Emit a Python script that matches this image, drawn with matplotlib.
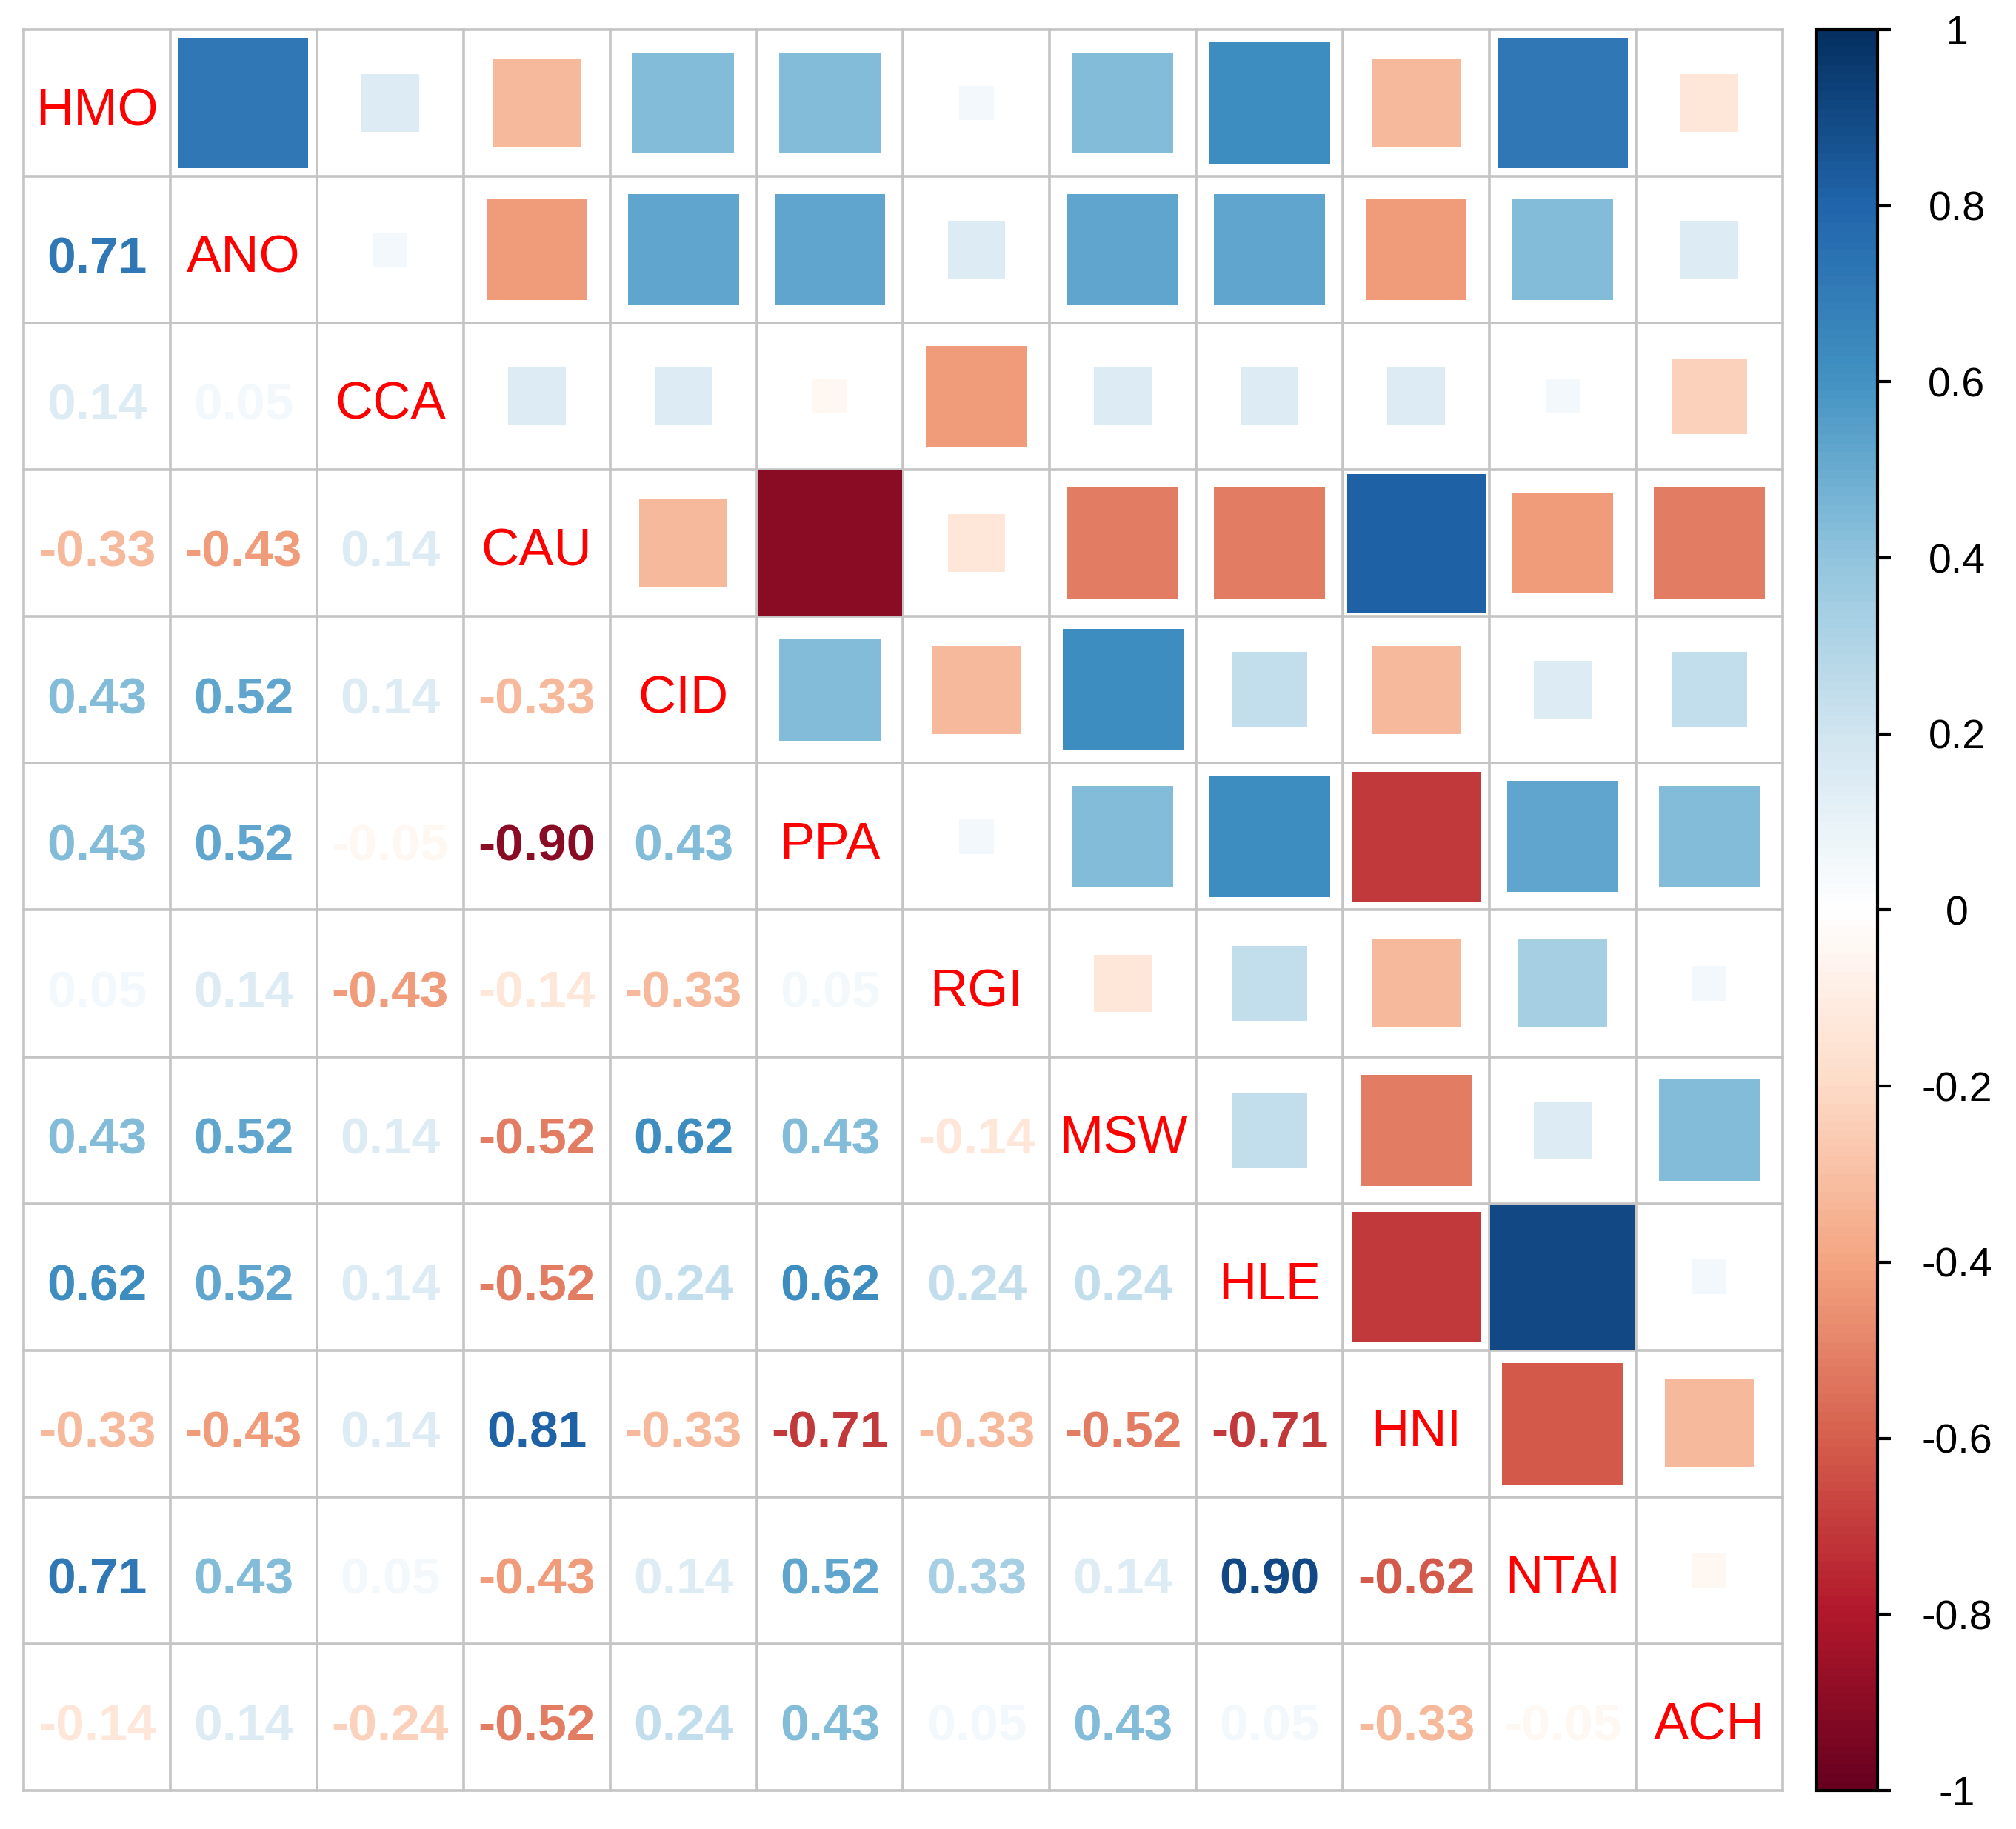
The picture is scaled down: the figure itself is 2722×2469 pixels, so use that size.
import numpy as np
import matplotlib.pyplot as plt
from matplotlib.colors import LinearSegmentedColormap, Normalize
from matplotlib.cm import ScalarMappable
from matplotlib.patches import Rectangle

plt.rcParams['font.family'] = ['Liberation Sans', 'DejaVu Sans']

# variable names (diagonal)
labels = ["HMO", "ANO", "CCA", "CAU", "CID", "PPA", "RGI", "MSW", "HLE", "HNI", "NTAI", "ACH"]

# lower triangle of the correlation matrix, row by row
lower = [
    [],
    [0.71],
    [0.14, 0.05],
    [-0.33, -0.43, 0.14],
    [0.43, 0.52, 0.14, -0.33],
    [0.43, 0.52, -0.05, -0.90, 0.43],
    [0.05, 0.14, -0.43, -0.14, -0.33, 0.05],
    [0.43, 0.52, 0.14, -0.52, 0.62, 0.43, -0.14],
    [0.62, 0.52, 0.14, -0.52, 0.24, 0.62, 0.24, 0.24],
    [-0.33, -0.43, 0.14, 0.81, -0.33, -0.71, -0.33, -0.52, -0.71],
    [0.71, 0.43, 0.05, -0.43, 0.14, 0.52, 0.33, 0.14, 0.90, -0.62],
    [-0.14, 0.14, -0.24, -0.52, 0.24, 0.43, 0.05, 0.43, 0.05, -0.33, -0.05],
]

cbar_ticks = [-1, -0.8, -0.6, -0.4, -0.2, 0, 0.2, 0.4, 0.6, 0.8, 1]
cbar_labels = ["-1", "-0.8", "-0.6", "-0.4", "-0.2", "0", "0.2", "0.4", "0.6", "0.8", "1"]

n = len(labels)
corr = np.eye(n)
for i, row in enumerate(lower):
    for j, v in enumerate(row):
        corr[i, j] = v
        corr[j, i] = v

# corrplot style RdBu palette
cmap = LinearSegmentedColormap.from_list(
    "corrRdBu",
    ["#67001F", "#B2182B", "#D6604D", "#F4A582", "#FDDBC7", "#FFFFFF",
     "#D1E5F0", "#92C5DE", "#4393C3", "#2166AC", "#053061"], N=200)
norm = Normalize(-1, 1)

fig = plt.figure(figsize=(27.22, 24.69), dpi=100)
ax = fig.add_axes([0.01176, 0.0211, 0.8725, 0.9627])
ax.set_xlim(0, n)
ax.set_ylim(n, 0)
ax.set_axis_off()

# grid
for k in range(n + 1):
    ax.plot([k, k], [0, n], color="#C4C4C4", lw=2.6, clip_on=False, zorder=1)
    ax.plot([0, n], [k, k], color="#C4C4C4", lw=2.6, clip_on=False, zorder=1)

for i in range(n):
    for j in range(n):
        v = corr[i, j]
        if i == j:
            ax.text(j + 0.5, i + 0.5 + 0.155, labels[i], color="#FF0000",
                    ha="center", va="baseline", fontsize=51)
        elif i > j:
            ax.text(j + 0.5, i + 0.5 + 0.16, f"{v:.2f}", color=cmap(norm(v)),
                    ha="center", va="baseline", fontsize=50, fontweight="bold")
        else:
            s = min(1.05 * np.sqrt(abs(v)), 0.99)
            ax.add_patch(Rectangle((j + 0.5 - s / 2, i + 0.5 - s / 2), s, s,
                                   facecolor=cmap(norm(v)), edgecolor="none", zorder=2))

# colour bar
cax = fig.add_axes([0.9008, 0.0211, 0.0305, 0.9627])
cb = fig.colorbar(ScalarMappable(norm=norm, cmap=cmap), cax=cax, ticks=cbar_ticks)
cb.outline.set_linewidth(3)
cax.set_yticklabels(cbar_labels)
cax.tick_params(axis="y", length=13, width=3, pad=64, labelsize=40)
for lbl in cax.get_yticklabels():
    lbl.set_horizontalalignment("center")
    lbl.set_verticalalignment("center_baseline")

fig.savefig("out.png", dpi=100, facecolor="white")
